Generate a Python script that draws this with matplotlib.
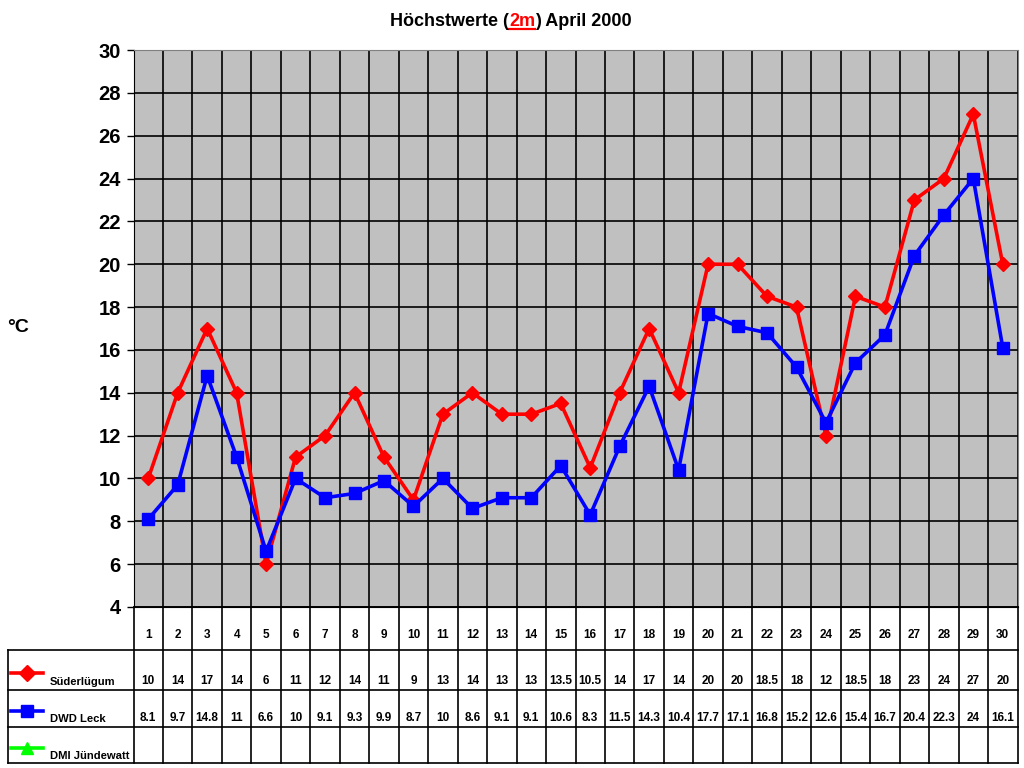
import numpy as np
import matplotlib.pyplot as plt
from matplotlib.lines import Line2D

plt.rcParams['font.family'] = ['Liberation Sans', 'DejaVu Sans']
plt.rcParams['font.weight'] = 'bold'

days = list(range(1, 31))
suederluegum = [10, 14, 17, 14, 6, 11, 12, 14, 11, 9, 13, 14, 13, 13, 13.5,
                10.5, 14, 17, 14, 20, 20, 18.5, 18, 12, 18.5, 18, 23, 24, 27, 20]
dwd_leck = [8.1, 9.7, 14.8, 11, 6.6, 10, 9.1, 9.3, 9.9, 8.7, 10, 8.6, 9.1, 9.1, 10.6,
            8.3, 11.5, 14.3, 10.4, 17.7, 17.1, 16.8, 15.2, 12.6, 15.4, 16.7, 20.4, 22.3, 24, 16.1]
dmi_juendewatt = [None] * 30
series_names = ['Süderlügum', 'DWD Leck', 'DMI Jündewatt']
series_colors = ['#ff0000', '#0000ff', '#00ff00']
series_markers = ['D', 's', '^']

def fmt(v):
    if v is None:
        return ''
    return ('%g' % v)

fig = plt.figure(figsize=(10.24, 7.68), dpi=100)
W, H = 1024, 768
ax = fig.add_axes([133.5 / W, 1 - 607 / H, 884 / W, 557 / H])
ax.set_facecolor('#c0c0c0')

x = np.arange(30) + 0.5
ax.plot(x, suederluegum, color='#ff0000', lw=2.6, marker='D', ms=7.5, zorder=3)
ax.plot(x, dwd_leck, color='#0000ff', lw=2.6, marker='s', ms=8.5, zorder=4)

ax.set_xlim(0, 30)
ax.set_ylim(4, 30)
ax.set_yticks(range(4, 31, 2))
ax.set_xticks(range(31))
ax.set_xticklabels([])
ax.tick_params(axis='x', length=0)
ax.tick_params(axis='y', direction='out', length=5, width=1, labelsize=14.5, pad=4)
for lab in ax.get_yticklabels():
    lab.set_fontweight('bold')
ax.grid(True, color='black', lw=1.2)
ax.set_axisbelow(True)
for side in ['top', 'right']:
    ax.spines[side].set_color('#808080')
ax.spines['left'].set_color('black')
ax.spines['bottom'].set_color('black')
fig.text(18.5 / W, 1 - 327 / H, '°C', ha='center', va='center', fontsize=14, fontweight='bold')

# table below the plot, laid out in pixel rows
tax = fig.add_axes([133.5 / W, 3 / H, 884 / W, 158 / H])
tax.set_xlim(0, 30)
tax.set_ylim(765, 607)
tax.axis('off')
lab_w = 125.5 / 29.47
row_edges = [607, 650, 690, 727, 763]
lk = dict(color='black', lw=1.2, clip_on=False)
tax.plot([0, 30], [row_edges[0]] * 2, **lk)
for yy in row_edges[1:]:
    tax.plot([-lab_w, 30], [yy, yy], **lk)
for c in range(31):
    tax.plot([c, c], [row_edges[0], row_edges[-1]], **lk)
tax.plot([-lab_w, -lab_w], [row_edges[1], row_edges[-1]], **lk)

for i, d in enumerate(days):
    tax.text(i + 0.5, 635, str(d), ha='center', va='center', fontsize=8.5, fontweight='bold')

rows = [suederluegum, dwd_leck, dmi_juendewatt]
text_y = [681, 718, 755]
line_y = [673, 711, 748]
for vals, name, col, mk, ty, ly in zip(rows, series_names, series_colors, series_markers, text_y, line_y):
    for i, v in enumerate(vals):
        tax.text(i + 0.5, ty, fmt(v), ha='center', va='center', fontsize=8.5, fontweight='bold')
    tax.text(-lab_w + 1.42, ty + 1, name, ha='left', va='center', fontsize=8.1, fontweight='bold')
    tax.plot([-lab_w + 0.1, -lab_w + 1.2], [ly, ly], color=col, lw=2.6, clip_on=False)
    tax.plot([-lab_w + 0.65], [ly], color=col, marker=mk, ms=8, clip_on=False)

# title with red underlined "2m"
t1 = fig.text(0.0, 1 - 21 / H, 'Höchstwerte (', fontsize=13, fontweight='bold', va='center', ha='left')
t2 = ax.annotate('2m', xy=(1, 0), xycoords=t1, va='bottom', ha='left', fontsize=13,
                 fontweight='bold', color='#ff0000')
t3 = ax.annotate(') April 2000', xy=(1, 0), xycoords=t2, va='bottom', ha='left', fontsize=13,
                 fontweight='bold')
fig.canvas.draw()
r = fig.canvas.get_renderer()
b1 = t1.get_window_extent(r)
b3 = t3.get_window_extent(r)
total = b3.x1 - b1.x0
t1.set_x((511 - total / 2) / W)
fig.canvas.draw()
b2 = t2.get_window_extent(r)
fig.add_artist(Line2D([b2.x0 / W, b2.x1 / W], [(b2.y0 + 1) / H, (b2.y0 + 1) / H],
                      color='#ff0000', lw=1.6))

fig.savefig('out.png', dpi=100)
